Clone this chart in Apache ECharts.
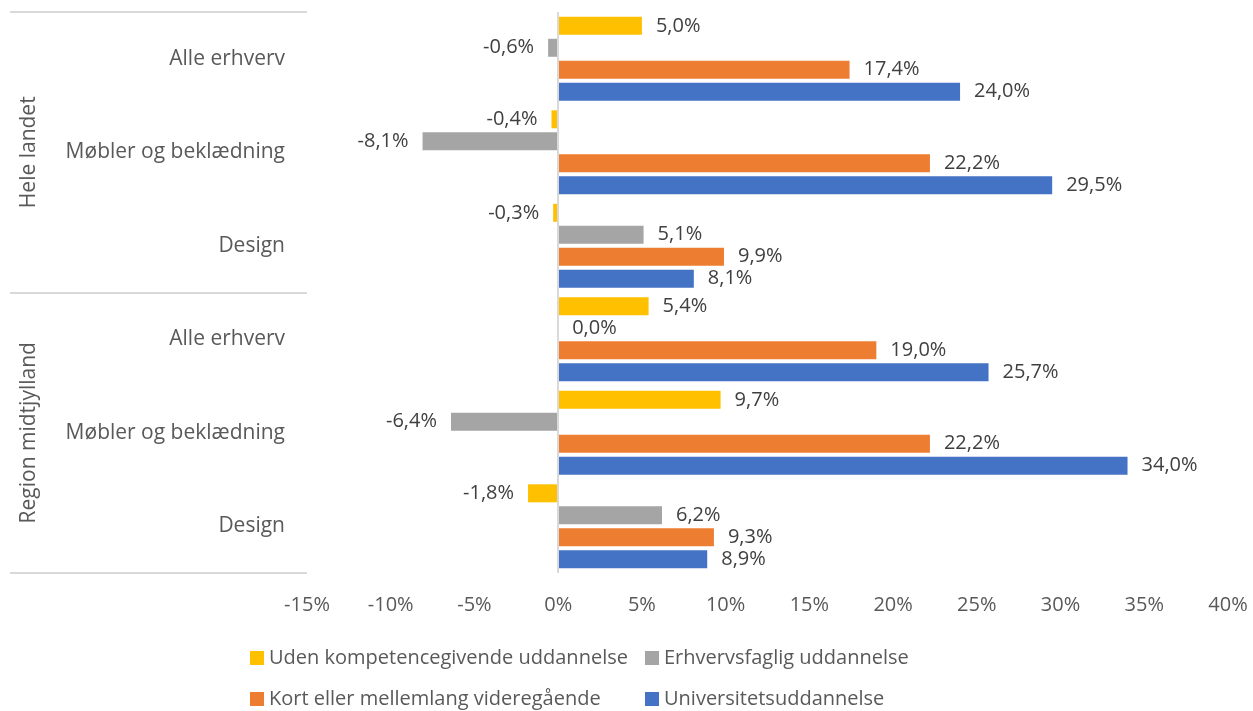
<!DOCTYPE html>
<html>
<head>
<meta charset="utf-8">
<script src="https://cdn.jsdelivr.net/npm/echarts@6/dist/echarts.min.js"></script>
<style>
  html, body { margin: 0; padding: 0; background: #fff; }
  #chart { width: 1253px; height: 711px; }
</style>
</head>
<body>
<div id="chart"></div>
<script>
const CATEGORIES = ["Alle erhverv", "Møbler og beklædning", "Design", "Alle erhverv", "Møbler og beklædning", "Design"];
const GROUPS = ["Hele landet", "Region midtjylland"];

const SERIES_NAMES = [
  "Uden kompetencegivende uddannelse",
  "Erhvervsfaglig uddannelse",
  "Kort eller mellemlang videregående",
  "Universitetsuddannelse"
];
const SERIES_COLORS = ["#FFC000", "#A5A5A5", "#ED7D31", "#4472C4"];

const UDEN = [5.0, -0.4, -0.3, 5.4, 9.7, -1.8];
const ERHVERV = [-0.6, -8.1, 5.1, 0.0, -6.4, 6.2];
const KORT = [17.4, 22.2, 9.9, 19.0, 22.2, 9.3];
const UNI = [24.0, 29.5, 8.1, 25.7, 34.0, 8.9];

const X_MIN = -15;
const X_MAX = 40;
const X_STEP = 5;

const FONT = "'Open Sans', sans-serif";
const TEXT_COLOR = "#595959";
const LABEL_COLOR = "#404040";

function fmtPct(v) {
  return v.toFixed(1).replace(".", ",") + "%";
}

// negative bars get their label on the left end
function toData(values) {
  return values.map((v) => ({
    value: v,
    label: { position: v < 0 ? "left" : "right" }
  }));
}

const seriesValues = [UDEN, ERHVERV, KORT, UNI];

const series = seriesValues.map((vals, i) => ({
  name: SERIES_NAMES[i],
  type: "bar",
  yAxisIndex: 0,
  barWidth: 18,
  barGap: "22%",
  itemStyle: { color: SERIES_COLORS[i] },
  label: {
    show: true,
    distance: 14,
    fontFamily: FONT,
    fontSize: 20,
    color: LABEL_COLOR,
    formatter: (p) => fmtPct(p.value)
  },
  data: toData(vals),
  markLine: i === 0 ? {
    silent: true,
    symbol: "none",
    label: { show: false },
    lineStyle: { color: "#D9D9D9", width: 2, type: "solid" },
    data: [{ xAxis: 0 }]
  } : undefined
}));

const legends = SERIES_NAMES.map((name, i) => ({
  data: [name],
  left: i % 2 === 0 ? 245 : 640,
  top: i < 2 ? 643 : 684,
  itemWidth: 14,
  itemHeight: 14,
  icon: "rect",
  textStyle: { fontFamily: FONT, fontSize: 20, lineHeight: 20, color: TEXT_COLOR },
  selectedMode: false
}));

const option = {
  backgroundColor: "#fff",
  animation: false,
  legend: legends,
  grid: { left: 307, right: 25, top: 12, bottom: 138, containLabel: false },
  xAxis: {
    type: "value",
    min: X_MIN,
    max: X_MAX,
    interval: X_STEP,
    axisLine: { show: false },
    axisTick: { show: false },
    splitLine: { show: false },
    axisLabel: {
      fontFamily: FONT,
      fontSize: 20,
      color: TEXT_COLOR,
      margin: 22,
      formatter: (v) => v + "%"
    }
  },
  yAxis: [
    {
      type: "category",
      data: CATEGORIES,
      inverse: true,
      axisLine: { show: false, onZero: false },
      axisTick: { show: false },
      axisLabel: {
        fontFamily: FONT,
        fontSize: 21,
        color: TEXT_COLOR,
        margin: 22
      }
    },
    {
      type: "category",
      data: GROUPS,
      inverse: true,
      position: "left",
      axisLine: { show: false, onZero: false },
      axisTick: {
        show: true,
        length: 297,
        lineStyle: { color: "#D9D9D9", width: 2 }
      },
      axisLabel: {
        fontFamily: FONT,
        fontSize: 21,
        color: TEXT_COLOR,
        rotate: 90,
        margin: 267
      }
    }
  ],
  series
};

const chart = echarts.init(document.getElementById("chart"));
chart.setOption(option);
</script>
</body>
</html>
